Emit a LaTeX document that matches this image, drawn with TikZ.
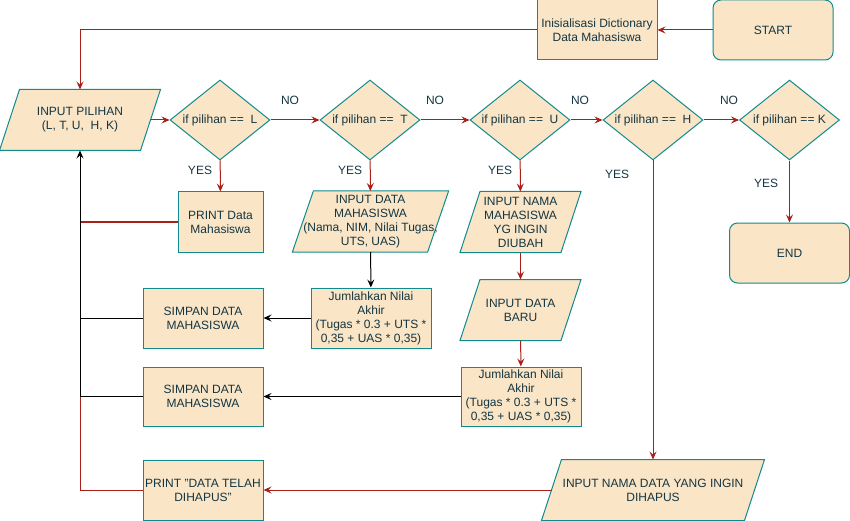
\documentclass[tikz,border=0pt]{standalone}
\usepackage{fontspec}
\setmainfont{Liberation Sans}
\usetikzlibrary{arrows.meta,shapes.geometric,backgrounds}
\definecolor{boxfill}{HTML}{FAE5C7}
\definecolor{boxline}{HTML}{0F8B8D}
\definecolor{edgered}{HTML}{A8201A}
\definecolor{txt}{HTML}{143642}
\tikzset{
  base/.style={font=\fontsize{12}{14}\selectfont, text=txt, align=center, inner sep=0pt, line width=1pt},
  procbox/.style={base, rectangle, draw=boxline, fill=boxfill, minimum width=120pt, minimum height=60pt},
  roundbox/.style={procbox, rounded corners=8pt},
  decision/.style={base, diamond, draw=boxline, fill=boxfill, aspect=1.25, minimum width=100pt, minimum height=80pt},
  iobox/.style={base, rectangle, minimum height=60pt},
  lbl/.style={font=\fontsize{12}{14}\selectfont, text=txt, inner sep=0pt},
  tip/.style={-{Stealth[length=8pt,width=7pt,inset=3pt]}},
  redarrow/.style={draw=edgered, line width=1pt, tip},
  blackarrow/.style={draw=black, line width=1pt, tip},
  redline/.style={draw=edgered, line width=1pt},
  blackline/.style={draw=black, line width=1pt},
  parashape/.style={line width=1pt, draw=boxline, fill=boxfill},
}
\newcommand\parafill[2]{%
  \begin{pgfonlayer}{background}
    \draw[parashape] ([xshift=#2]#1.north west) -- ([xshift=#2]#1.north east)
      -- ([xshift=-#2]#1.south east) -- ([xshift=-#2]#1.south west) -- cycle;
  \end{pgfonlayer}}
\begin{document}
\begin{tikzpicture}[x=1pt,y=-1pt]
\useasboundingbox (0,0) rectangle (850,521);

% nodes
\node[roundbox] (start) at (773,30) {START};
\node[procbox] (init) at (597,30) {Inisialisasi Dictionary\\Data Mahasiswa};
\node[iobox, minimum width=140pt] (ip) at (80,120) {INPUT PILIHAN\\(L, T, U,\ \ H, K)};
\parafill{ip}{10pt}

\node[decision] (dl) at (220,120) {if pilihan ==\ \ L};
\node[decision] (dt) at (370,120) {if pilihan ==\ \ T};
\node[decision] (du) at (520,120) {if pilihan ==\ \ U};
\node[decision] (dh) at (653,120) {if pilihan ==\ \ H};
\node[decision] (dk) at (789.5,120) {if pilihan == K};

\node[roundbox] (end) at (789.5,253) {END};

\node[procbox, minimum width=85pt] (printl) at (220.5,222) {PRINT Data\\Mahasiswa};
\node[iobox, minimum width=120pt] (inmhs) at (370.5,221.5) {INPUT DATA\\MAHASISWA\\(Nama, NIM, Nilai Tugas,\\UTS, UAS)};
\parafill{inmhs}{10.5pt}
\node[procbox] (jml1) at (371,318) {Jumlahkan Nilai\\Akhir\\(Tugas * 0.3 + UTS *\\0,35 + UAS * 0,35)};
\node[procbox] (simpan1) at (203,318) {SIMPAN DATA\\MAHASISWA};

\node[iobox, minimum width=100pt] (innama) at (520.5,222) {INPUT NAMA\\MAHASISWA\\YG INGIN\\DIUBAH};
\parafill{innama}{10pt}
\node[iobox, minimum width=100pt] (inbaru) at (520.5,310) {INPUT DATA\\BARU};
\parafill{inbaru}{10pt}
\node[procbox, minimum height=59pt] (jml2) at (521,396.5) {Jumlahkan Nilai\\Akhir\\(Tugas * 0.3 + UTS *\\0,35 + UAS * 0,35)};
\node[procbox, minimum height=59pt] (simpan2) at (203,396.5) {SIMPAN DATA\\MAHASISWA};

\node[iobox, minimum width=202pt] (inhapus) at (653,490) {INPUT NAMA DATA YANG INGIN\\DIHAPUS};
\parafill{inhapus}{10pt}
\node[procbox] (printh) at (203,490) {PRINT "DATA TELAH\\DIHAPUS"};

% labels
\node[lbl] (no1) at (290,100) {NO};
\node[lbl] (no2) at (435,100) {NO};
\node[lbl] (no3) at (580,100) {NO};
\node[lbl] (no4) at (729,100) {NO};
\node[lbl] (yes1) at (200,170) {YES};
\node[lbl] (yes2) at (350,170) {YES};
\node[lbl] (yes3) at (500,170) {YES};
\node[lbl] (yes4) at (617,174) {YES};
\node[lbl] (yes5) at (766,183) {YES};

\coordinate (topleft) at (80,30);
\coordinate (j1) at (80,318);
\coordinate (j2) at (80,396.5);
\coordinate (j3) at (80,490);
\coordinate (j0) at (80,222);

% connectors
\draw[redarrow] (start) -- (init);
\draw[redarrow] (init.west) -- (topleft) -- (ip.north);
\draw[redarrow] (ip.east) -- (dl.west);
\draw[redarrow] (dl) -- (dt);
\draw[redarrow] (dt) -- (du);
\draw[redarrow] (du) -- (dh);
\draw[redarrow] (dh) -- (dk);
\draw[redarrow] (dl) -- (printl);
\draw[redarrow] (dt) -- (inmhs);
\draw[redarrow] (du) -- (innama);
\draw[redarrow] (innama) -- (inbaru);
\draw[redarrow] (inbaru) -- (jml2);
\draw[redarrow] (dh.south) -- (inhapus.north);
\draw[redarrow] (dk) -- (end);
\draw[blackarrow] (inmhs) -- (jml1);
\draw[blackarrow] (jml1) -- (simpan1);
\draw[blackarrow] (jml2) -- (simpan2);
\draw[redarrow] (inhapus.west) -- (printh.east);
\draw[redline] (printh.west) -- (j3) -- (j2);
\draw[redline] (printl.west) -- (j0);
\draw[blackline] (simpan1.west) -- (j1);
\draw[blackline] (simpan2.west) -- (j2);
\draw[blackarrow] (j2) -- (ip.south);
\end{tikzpicture}
\end{document}
